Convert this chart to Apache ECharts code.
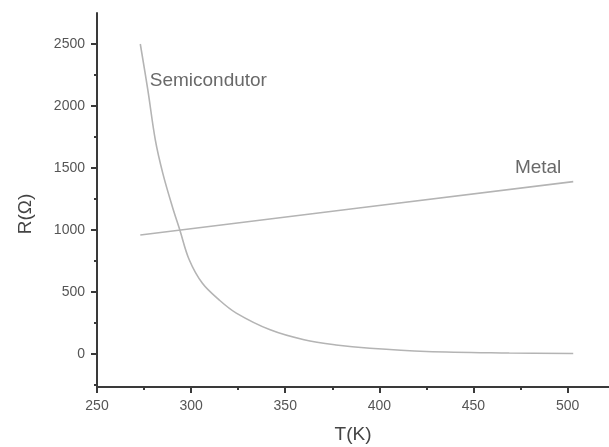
<!DOCTYPE html>
<html>
<head>
<meta charset="utf-8">
<script src="https://cdn.jsdelivr.net/npm/echarts@6/dist/echarts.min.js"></script>
<style>
  html, body { margin: 0; padding: 0; background: #fff; }
  #chart { width: 609px; height: 447px; }
</style>
</head>
<body>
<div id="chart"></div>
<script>
// semiconductor curve
const tempSemi = [273, 277, 281, 285, 290, 294, 299, 306, 315, 324, 342, 360, 377, 395, 425, 469, 503]
const resSemi = [2500, 2130, 1725, 1455, 1190, 1000, 760, 570, 435, 330, 195, 115, 73, 46, 20, 8, 4]
// metal line
const tempMetal = [273, 388, 503]
const resMetal = [960, 1175, 1390]

const xMinorTicks = [275, 325, 375, 425, 475]
const yMinorTicks = [-250, 250, 750, 1250, 1750, 2250]

const curveNames = ['Semicondutor', 'Metal']
const curveNameT = [278, 472]
const curveNameR = [2200, 1500]

const font = 'Liberation Sans, Arial, sans-serif'
const axisColor = '#3a3a3a'
const lineColor = '#b4b4b4'

const xRange = { min: 250, max: 522 }
const yRange = { min: -266, max: 2750 }

const pair = (a, b) => a.map((v, i) => [v, b[i]])

// an extra axis that only draws the short ticks
const tickAxis = (range, pos, values, len) => ({
  type: 'value',
  ...range,
  position: pos,
  axisLine: { show: false, onZero: false },
  axisTick: { show: true, length: len, customValues: values, lineStyle: { color: axisColor, width: 2 } },
  axisLabel: { show: false },
  splitLine: { show: false }
})

const option = {
  animation: false,
  grid: { left: 97, right: 0, top: 13, bottom: 60, outerBoundsMode: 'none' },
  xAxis: [
    {
      type: 'value',
      ...xRange,
      splitNumber: 5,
      name: 'T(K)',
      nameLocation: 'middle',
      nameGap: 38,
      nameTextStyle: { fontFamily: font, fontSize: 19, color: '#444' },
      axisLine: { show: true, onZero: false, lineStyle: { color: axisColor, width: 2 } },
      axisTick: { show: true, length: 6, lineStyle: { color: axisColor, width: 2 } },
      axisLabel: { showMaxLabel: false, margin: 12, fontFamily: font, fontSize: 14, color: '#555', formatter: v => String(v) },
      splitLine: { show: false }
    },
    tickAxis(xRange, 'bottom', xMinorTicks, 3)
  ],
  yAxis: [
    {
      type: 'value',
      ...yRange,
      splitNumber: 6,
      name: 'R(Ω)',
      nameLocation: 'middle',
      nameGap: 62,
      nameTextStyle: { fontFamily: font, fontSize: 19, color: '#444', padding: [0, 28, 0, 0] },
      axisLine: { show: true, onZero: false, lineStyle: { color: axisColor, width: 2 } },
      axisTick: { show: true, length: 6, lineStyle: { color: axisColor, width: 2 } },
      axisLabel: { showMinLabel: false, showMaxLabel: false, margin: 12, fontFamily: font, fontSize: 14, color: '#555', formatter: v => String(v) },
      splitLine: { show: false }
    },
    tickAxis(yRange, 'left', yMinorTicks, 3)
  ],
  series: [
    {
      name: curveNames[0],
      type: 'line',
      smooth: 0.35,
      showSymbol: false,
      lineStyle: { color: lineColor, width: 1.6 },
      data: pair(tempSemi, resSemi)
    },
    {
      name: curveNames[1],
      type: 'line',
      showSymbol: false,
      lineStyle: { color: lineColor, width: 1.6 },
      data: pair(tempMetal, resMetal)
    },
    {
      // curve names as text next to the curves
      type: 'scatter',
      symbolSize: 0,
      silent: true,
      label: {
        show: true,
        position: 'right',
        distance: 0,
        formatter: p => curveNames[p.dataIndex],
        fontFamily: font,
        fontSize: 19,
        color: '#444'
      },
      data: pair(curveNameT, curveNameR)
    }
  ]
}

const myChart = echarts.init(document.getElementById('chart'))
myChart.setOption(option)
</script>
</body>
</html>
